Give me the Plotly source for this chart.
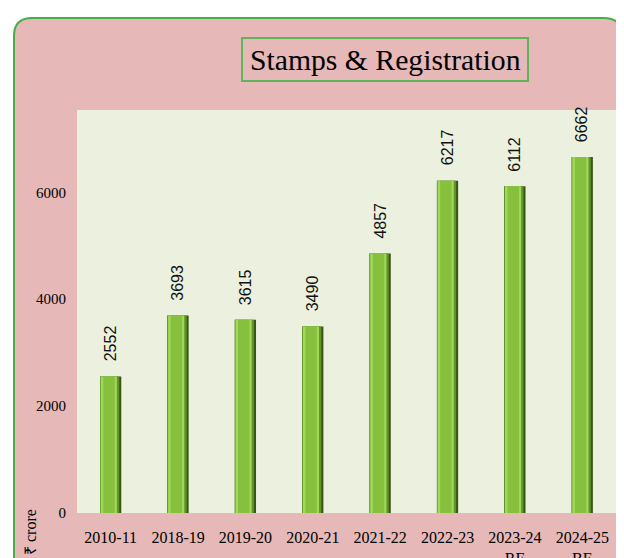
import plotly.graph_objects as go

categories = ["2010-11", "2018-19", "2019-20", "2020-21", "2021-22", "2022-23", "2023-24<br>RE", "2024-25<br>BE"]
values = [2552, 3693, 3615, 3490, 4857, 6217, 6112, 6662]
y_ticks = [0, 2000, 4000, 6000]
title_text = "Stamps & Registration"
y_label = "₹ crore"

# page body has an 8px margin: figure pixel = screen pixel - 8
OFF = 8
W, H = 624 - OFF, 558 - OFF
PL, PR, PT, PB = 77 - OFF, 616 - OFF, 110 - OFF, 513 - OFF


def px(x):
    return (x - OFF - PL) / (PR - PL)


def py(y):
    return (PB - (y - OFF)) / (PB - PT)


fig = go.Figure()

layers = [
    ("#3A5614", 0.315, -0.158),
    ("#62922A", 0.285, -0.158),
    ("#A0D85A", 0.24, -0.148),
    ("#86C03D", 0.17, -0.11),
]
for color, width, offset in layers:
    fig.add_trace(go.Bar(
        x=categories, y=values,
        marker=dict(color=color, line=dict(width=0)),
        width=width, offset=offset,
        hoverinfo="skip", showlegend=False,
    ))

for c, v in zip(categories, values):
    fig.add_annotation(
        x=c, y=v, xref="x", yref="y",
        text=str(v), textangle=-90, showarrow=False,
        xanchor="center", yanchor="bottom", yshift=13,
        font=dict(family="Liberation Sans", size=16, color="#111111"),
    )

# outer rounded frame (screen coords)
L, T, R, B, r = 14, 18, 622, 640, 18
path = (
    f"M {px(L)},{py(T + r)} Q {px(L)},{py(T)} {px(L + r)},{py(T)} "
    f"L {px(R - r)},{py(T)} Q {px(R)},{py(T)} {px(R)},{py(T + r)} "
    f"L {px(R)},{py(B)} L {px(L)},{py(B)} Z"
)
fig.add_shape(type="path", path=path, xref="paper", yref="paper",
              fillcolor="#E6B8B7", line=dict(color="#45B04A", width=2), layer="below")
# plot area background
fig.add_shape(type="rect", x0=0, x1=1, y0=0, y1=1, xref="paper", yref="paper",
              fillcolor="#EBF1DE", line=dict(width=0), layer="below")
# title box
fig.add_shape(type="rect", x0=px(242), x1=px(528), y0=py(81), y1=py(38),
              xref="paper", yref="paper", fillcolor="rgba(0,0,0,0)",
              line=dict(color="#5DB55A", width=2), layer="above")

fig.add_annotation(
    x=px(385), y=py(60), xref="paper", yref="paper",
    text=title_text, showarrow=False, xanchor="center", yanchor="middle",
    font=dict(family="Liberation Serif", size=29.7, color="#000000"),
)

# y label at bottom-left
fig.add_annotation(
    x=px(30), y=py(557), xref="paper", yref="paper",
    text=y_label, textangle=-90, showarrow=False,
    xanchor="center", yanchor="bottom",
    font=dict(family="Liberation Serif", size=16, color="#000000"),
)

fig.update_layout(
    width=W, height=H,
    margin=dict(l=PL, r=W - PR, t=PT, b=H - PB, pad=0, autoexpand=False),
    paper_bgcolor="white", plot_bgcolor="#EBF1DE",
    barmode="overlay", showlegend=False,
    xaxis=dict(type="category", showgrid=False, showline=False, zeroline=False, ticks="",
               ticklabelstandoff=13, automargin=False,
               tickfont=dict(family="Liberation Serif", size=16, color="#000000")),
    yaxis=dict(range=[0, 7540], tickvals=y_ticks, showgrid=False, showline=False,
               zeroline=False, ticks="", ticklabelstandoff=10, automargin=False,
               tickfont=dict(family="Liberation Serif", size=15, color="#000000")),
)

fig.write_html("out.html")
